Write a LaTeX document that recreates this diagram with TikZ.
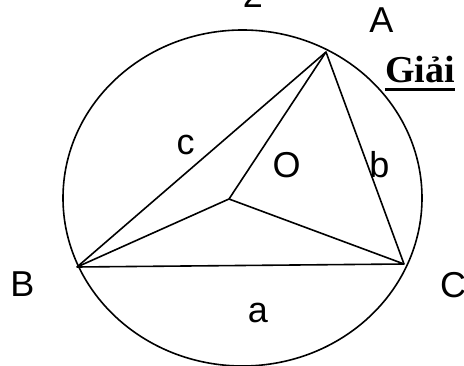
\documentclass[tikz,border=0pt]{standalone}
\usepackage{fontspec}
\setmainfont{Liberation Sans}
\newfontfamily\serifbold{Liberation Serif}
\begin{document}
\begin{tikzpicture}[x=1pt,y=-1pt,
  lbl/.style={inner sep=0pt,anchor=base,font=\fontsize{36}{40}\selectfont},
  edge/.style={line width=1.6pt,line join=round}]
\useasboundingbox (0,0) rectangle (464,366);
\coordinate (A) at (326,52);
\coordinate (B) at (77,267);
\coordinate (C) at (404,264);
\coordinate (O) at (229,199);
\draw[edge] (242.5,198) ellipse [x radius=179.5, y radius=168];
\draw[edge] (A) -- (B) -- (C) -- cycle;
\draw[edge] (O) -- (A) (O) -- (B) (O) -- (C);
\node[lbl] (two) at (253,8) {2};
\node[lbl] (lA) at (381.5,33) {A};
\node[lbl] (lB) at (22.5,297) {B};
\node[lbl] (lC) at (453,298) {C};
\node[lbl] (la) at (258,323) {a};
\node[lbl] (lc) at (185.5,155) {c};
\node[lbl] (lO) at (286.5,178) {O};
\node[lbl] (lb) at (379.5,178) {b};
\node[inner sep=0pt,anchor=base,font=\serifbold\bfseries\fontsize{38}{42}\selectfont] (g) at (420,83) {Giải};
\draw[line width=3pt] ([yshift=-6.5pt]g.base west) -- ([yshift=-6.5pt]g.base east);
\end{tikzpicture}
\end{document}
